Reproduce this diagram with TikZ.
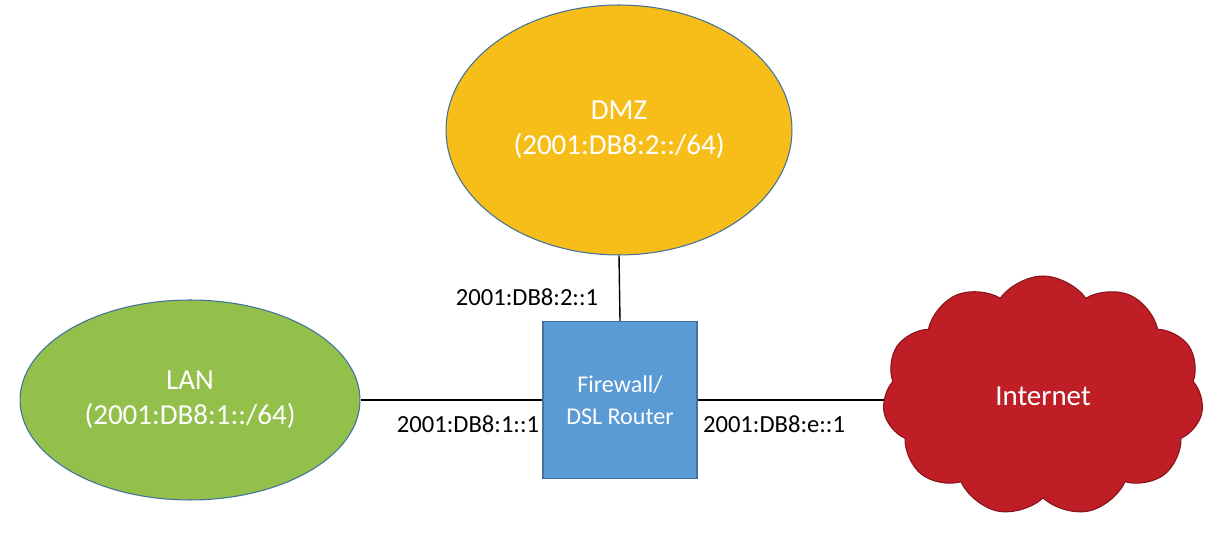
\documentclass[tikz,border=0pt]{standalone}
\usepackage{fontspec}
\setmainfont{Carlito}
\usetikzlibrary{shapes.symbols,shapes.geometric}
\definecolor{dmz}{HTML}{F7BE1A}
\definecolor{lan}{HTML}{92C04A}
\definecolor{fw}{HTML}{5B9BD5}
\definecolor{net}{HTML}{BF1E27}
\definecolor{edge}{HTML}{41719C}
\tikzset{
  zone/.style={ellipse,draw=edge,line width=0.6pt,text=white,font=\fontsize{16.5}{20}\selectfont,align=center},
  lbl/.style={font=\fontsize{14}{16}\selectfont},
  link/.style={line width=0.8pt}
}
\begin{document}
\begin{tikzpicture}[x=0.02cm,y=0.02cm]
\useasboundingbox (0,0) rectangle (1229,533);
\node[zone,fill=dmz,minimum width=6.92cm,minimum height=5cm] (dmz) at (619,403) {DMZ\\(2001:DB8:2::/64)};
\node[zone,fill=lan,minimum width=6.8cm,minimum height=4cm] (lan) at (190,133) {LAN\\(2001:DB8:1::/64)};
\node[draw=edge,fill=fw,line width=0.6pt,minimum width=3.08cm,minimum height=3.14cm,text=white,align=center,font=\fontsize{13.7}{18}\selectfont] (fw) at (620,133) {Firewall/\\DSL Router};
\node[cloud,cloud puffs=11,cloud puff arc=110,aspect=1.3,draw=net!70!black,fill=net,line width=0.6pt,minimum width=6.42cm,minimum height=4.8cm,text=white,font=\fontsize{16.5}{20}\selectfont] (net) at (1043,137) {Internet};
\draw[link] (dmz.south) -- (fw.north);
\draw[link] (lan.east) -- (fw.west);
\draw[link] (fw.east) -- (net.west |- fw.east);
\node[lbl] (l1) at (527,236) {2001:DB8:2::1};
\node[lbl] (l2) at (468,109) {2001:DB8:1::1};
\node[lbl] (l3) at (774,109) {2001:DB8:e::1};
\end{tikzpicture}
\end{document}
